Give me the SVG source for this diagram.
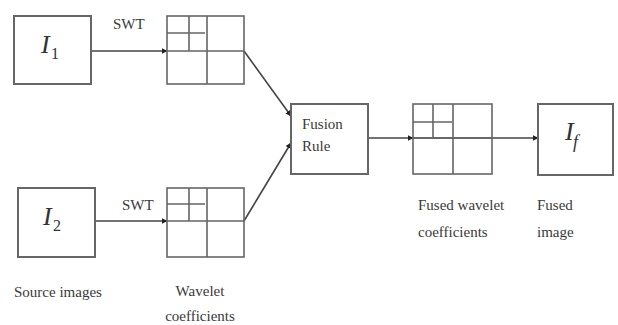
<svg xmlns="http://www.w3.org/2000/svg" width="618" height="325" viewBox="0 0 618 325">
<style>
.box{fill:#fff;stroke:#666;stroke-width:2}
.grid{fill:none;stroke:#666;stroke-width:1.6}
.ln{fill:none;stroke:#444;stroke-width:1.6}
.t{font-family:"Liberation Serif",serif;font-size:15px;fill:#3a3a3a}
.m{font-family:"Liberation Serif",serif;font-style:italic;font-size:26px;fill:#333}
.s{font-family:"Liberation Serif",serif;font-size:16px;fill:#333}
</style>
<defs>
<marker id="ah" viewBox="0 0 10 10" refX="9" refY="5" markerWidth="6" markerHeight="6" orient="auto" markerUnits="userSpaceOnUse">
<path d="M0,0 L10,5 L0,10 z" fill="#222"/>
</marker>
</defs>
<rect width="618" height="325" fill="#fff"/>
<g id="connectors">
<line class="ln" x1="91" y1="51" x2="167" y2="51" marker-end="url(#ah)"/>
<line class="ln" x1="95" y1="221" x2="167" y2="221" marker-end="url(#ah)"/>
<line class="ln" x1="244" y1="51" x2="291" y2="116" marker-end="url(#ah)"/>
<line class="ln" x1="244" y1="221" x2="291" y2="143" marker-end="url(#ah)"/>
<line class="ln" x1="368" y1="138" x2="413" y2="138" marker-end="url(#ah)"/>
<line class="ln" x1="413" y1="138" x2="538" y2="138" marker-end="url(#ah)"/>
<text class="t" x="113" y="29">SWT</text>
<text class="t" x="122" y="210">SWT</text>
</g>
<g id="I1">
<rect class="box" x="14" y="16" width="77" height="68"/>
<text class="m" x="41" y="53">I</text><text class="s" x="51" y="59">1</text>
</g>
<g id="I2">
<rect class="box" x="18" y="188" width="77" height="69"/>
<text class="m" x="43" y="225">I</text><text class="s" x="53" y="231">2</text>
</g>
<g id="W1">
<rect class="grid" x="167" y="16" width="77" height="68"/>
<path class="grid" d="M207,16V84M167,51H244M189,16V51M167,33H205"/>
</g>
<g id="W2">
<rect class="grid" x="167" y="188" width="77" height="69"/>
<path class="grid" d="M207,188V257M167,221H244M189,188V221M167,204H205"/>
</g>
<g id="fusion">
<rect class="box" x="291" y="104" width="77" height="70"/>
<text class="t" x="302" y="129">Fusion</text>
<text class="t" x="302" y="151">Rule</text>
</g>
<g id="W3">
<rect class="grid" x="413" y="104" width="79" height="70"/>
<path class="grid" d="M453,104V174M413,138H492M433,104V138M413,122H452"/>
</g>
<g id="If">
<rect class="box" x="538" y="104" width="75" height="71"/>
<text class="m" x="565" y="140">I</text><text class="m" x="573" y="148" style="font-size:18px">f</text>
</g>
<g id="labels">
<text class="t" x="14" y="297">Source images</text>
<text class="t" x="200" y="296" text-anchor="middle">Wavelet</text>
<text class="t" x="200" y="321" text-anchor="middle">coefficients</text>
<text class="t" x="418" y="210">Fused wavelet</text>
<text class="t" x="418" y="237">coefficients</text>
<text class="t" x="537" y="210">Fused</text>
<text class="t" x="537" y="237">image</text>
</g>
</svg>
